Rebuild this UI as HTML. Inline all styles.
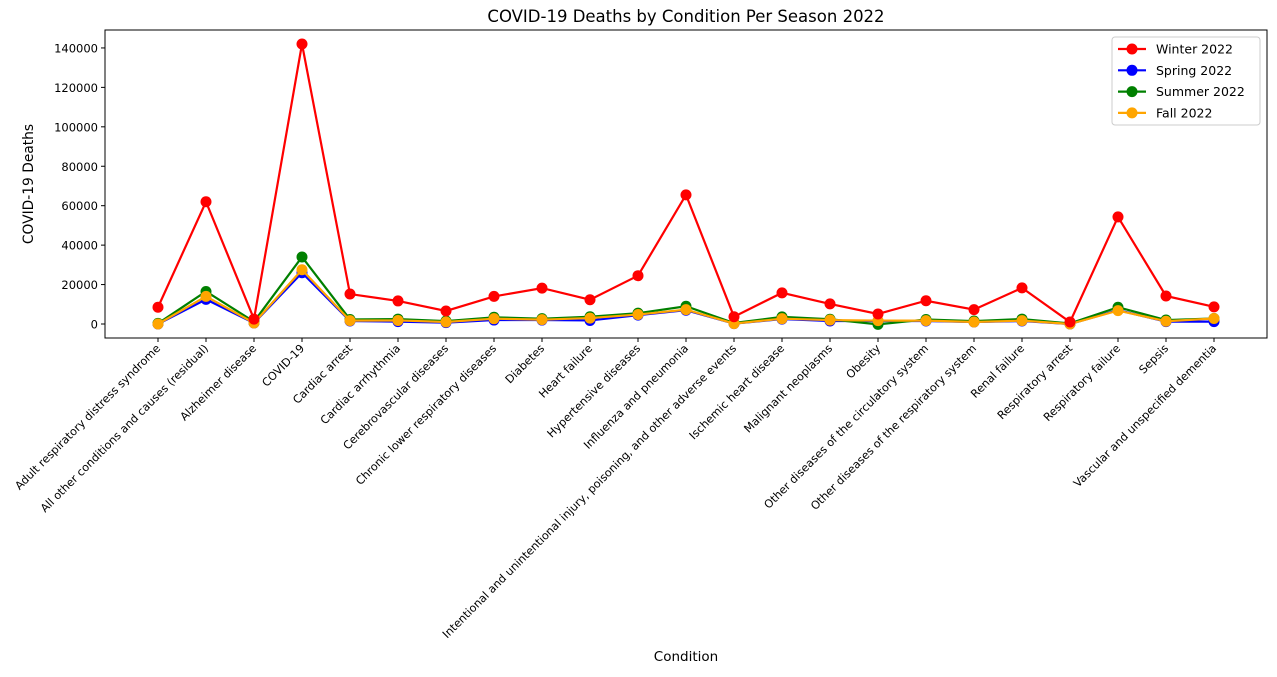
<!DOCTYPE html>
<html><head><meta charset="utf-8"><style>
body{margin:0;background:#fff;font-family:"DejaVu Sans","Liberation Sans",sans-serif}
svg text{font-family:"DejaVu Sans","Liberation Sans",sans-serif}
</style></head><body>
<svg id="chart" width="1277" height="673" xmlns="http://www.w3.org/2000/svg"></svg>
<script>
const categories=["Adult respiratory distress syndrome","All other conditions and causes (residual)","Alzheimer disease","COVID-19","Cardiac arrest","Cardiac arrhythmia","Cerebrovascular diseases","Chronic lower respiratory diseases","Diabetes","Heart failure","Hypertensive diseases","Influenza and pneumonia","Intentional and unintentional injury, poisoning, and other adverse events","Ischemic heart disease","Malignant neoplasms","Obesity","Other diseases of the circulatory system","Other diseases of the respiratory system","Renal failure","Respiratory arrest","Respiratory failure","Sepsis","Vascular and unspecified dementia"];
const winter=[8500,62000,2500,142000,15200,11700,6600,14000,18200,12300,24500,65500,3700,15800,10200,5100,11800,7300,18300,1000,54300,14200,8700];
const spring=[0,12500,500,26000,1500,1200,700,2000,2000,1800,4500,7000,200,2500,1500,1500,1500,1000,1500,0,7000,1200,1200];
const summer=[300,16500,1200,34000,2300,2500,1500,3400,2700,3700,5500,9000,500,3600,2400,-200,2300,1500,2500,300,8500,2000,2800];
const fall=[0,14000,500,27500,1700,1800,1000,2700,2200,3000,4800,7300,200,2700,2000,1700,1700,1000,1700,0,6800,1400,2800];
const yTicks=[0,20000,40000,60000,80000,100000,120000,140000];
const seriesNames=["Winter 2022","Spring 2022","Summer 2022","Fall 2022"];
const NS="http://www.w3.org/2000/svg";
const svg=document.getElementById('chart');
const L=105,R=1267,T=30,B=338,yMin=-7100,yMax=149100;
const n=categories.length;
const xs=i=>158+i*(1214-158)/(n-1);
const ys=v=>B-(v-yMin)/(yMax-yMin)*(B-T);
function mk(t,a){const e=document.createElementNS(NS,t);for(const k in a)e.setAttribute(k,a[k]);svg.appendChild(e);return e;}
let e=mk('text',{x:(L+R)/2,y:22,'text-anchor':'middle','font-size':16.5});e.textContent="COVID-19 Deaths by Condition Per Season 2022";


e=mk('rect',{x:L,y:T,width:R-L,height:B-T,fill:'none',stroke:'#000','stroke-width':1});


yTicks.forEach(v=>{const y=ys(v);
 let t=mk('line',{x1:L-4,x2:L,y1:y,y2:y,stroke:'#000'});
 
 
 let l=mk('text',{x:L-7,y:y+4.5,'text-anchor':'end','font-size':11.5});l.textContent=v;
 
 });
categories.forEach((c,i)=>{const x=xs(i);
 let t=mk('line',{x1:x,x2:x,y1:B,y2:B+4,stroke:'#000'});
 
 
 let l=mk('text',{x:x+3,y:B+11,'text-anchor':'end','font-size':11.2,transform:`rotate(-45 ${x+3} ${B+11})`});l.textContent=c;
 
 });
e=mk('text',{x:(L+R)/2,y:661,'text-anchor':'middle','font-size':13.5});e.textContent="Condition";


e=mk('text',{x:33,y:(T+B)/2,'text-anchor':'middle','font-size':13.8,transform:`rotate(-90 33 ${(T+B)/2})`});e.textContent="COVID-19 Deaths";


const data=[winter,spring,summer,fall],colors=['red','blue','green','orange'];
[1,2,3,0].forEach(s=>{const g=mk('g',{});
 
 
 const pts=data[s].map((v,i)=>xs(i)+','+ys(v)).join(' ');
 const pl=document.createElementNS(NS,'polyline');pl.setAttribute('points',pts);pl.setAttribute('fill','none');pl.setAttribute('stroke',colors[s]);pl.setAttribute('stroke-width',2.2);g.appendChild(pl);
 data[s].forEach((v,i)=>{const c=document.createElementNS(NS,'circle');c.setAttribute('cx',xs(i));c.setAttribute('cy',ys(v));c.setAttribute('r',5.5);c.setAttribute('fill',colors[s]);
 
 
 g.appendChild(c);});});
e=mk('rect',{x:1112,y:37,width:148,height:88,rx:3,fill:'#fff',stroke:'#ccc'});


seriesNames.forEach((nm,i)=>{const y=49+i*21.3;
 let ln=mk('line',{x1:1118,x2:1146,y1:y,y2:y,stroke:colors[i],'stroke-width':2.2});
 
 
 let c=mk('circle',{cx:1132,cy:y,r:5.5,fill:colors[i]});
 
 
 let t=mk('text',{x:1156,y:y+4.5,'font-size':12.5});t.textContent=nm;
 
 });
</script>
</body></html>
